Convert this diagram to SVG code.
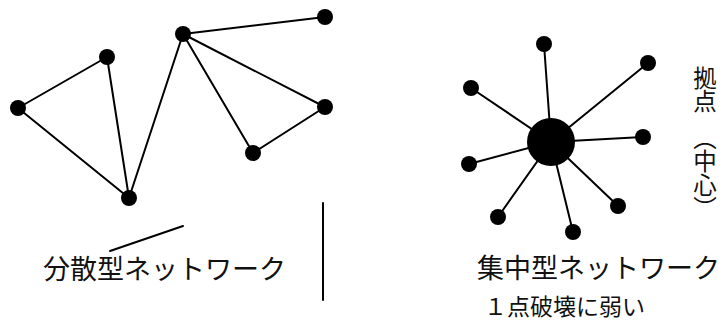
<svg xmlns="http://www.w3.org/2000/svg" width="727" height="329" viewBox="0 0 727 329">
<style>
.edge{stroke:#000;stroke-width:2;fill:none;stroke-linecap:round}
.n{fill:#000}
.t{font-family:"Noto Sans CJK JP","Noto Sans",sans-serif;fill:#111}
.v{writing-mode:vertical-rl}
</style>
<rect width="727" height="329" fill="#fff"/>
<g id="connectors">
<line class="edge" x1="18" y1="108" x2="107" y2="57"/>
<line class="edge" x1="18" y1="108" x2="129" y2="198"/>
<line class="edge" x1="107" y1="57" x2="129" y2="198"/>
<line class="edge" x1="129" y1="198" x2="183" y2="34"/>
<line class="edge" x1="183" y1="34" x2="325" y2="17"/>
<line class="edge" x1="183" y1="34" x2="325" y2="107"/>
<line class="edge" x1="183" y1="34" x2="253" y2="153"/>
<line class="edge" x1="253" y1="153" x2="325" y2="107"/>
<line class="edge" x1="551" y1="142" x2="544" y2="44"/>
<line class="edge" x1="551" y1="142" x2="648" y2="63"/>
<line class="edge" x1="551" y1="142" x2="471" y2="88"/>
<line class="edge" x1="551" y1="142" x2="643" y2="137"/>
<line class="edge" x1="551" y1="142" x2="469" y2="164"/>
<line class="edge" x1="551" y1="142" x2="498" y2="217"/>
<line class="edge" x1="551" y1="142" x2="573" y2="232"/>
<line class="edge" x1="551" y1="142" x2="618" y2="206"/>
<line class="edge" x1="110" y1="251" x2="183" y2="226"/>
<line class="edge" x1="323" y1="203" x2="323" y2="300"/>
</g>
<g id="dA"><circle class="n" cx="18" cy="108" r="8"/></g>
<g id="dB"><circle class="n" cx="107" cy="57" r="8"/></g>
<g id="dC"><circle class="n" cx="129" cy="198" r="8"/></g>
<g id="dD"><circle class="n" cx="183" cy="34" r="8"/></g>
<g id="dE"><circle class="n" cx="325" cy="17" r="8"/></g>
<g id="dF"><circle class="n" cx="325" cy="107" r="8"/></g>
<g id="dG"><circle class="n" cx="253" cy="153" r="8"/></g>
<g id="hub"><circle class="n" cx="551" cy="142" r="24"/></g>
<g id="s1"><circle class="n" cx="544" cy="44" r="8"/></g>
<g id="s2"><circle class="n" cx="648" cy="63" r="8"/></g>
<g id="s3"><circle class="n" cx="471" cy="88" r="8"/></g>
<g id="s4"><circle class="n" cx="643" cy="137" r="8"/></g>
<g id="s5"><circle class="n" cx="469" cy="164" r="8"/></g>
<g id="s6"><circle class="n" cx="498" cy="217" r="8"/></g>
<g id="s7"><circle class="n" cx="573" cy="232" r="8"/></g>
<g id="s8"><circle class="n" cx="618" cy="206" r="8"/></g>
<g id="labels">
<text class="t" x="43" y="279" font-size="27">分散型ネットワーク</text>
<text class="t" x="477" y="278" font-size="27">集中型ネットワーク</text>
<text class="t" x="484" y="315" font-size="23">１点破壊に弱い</text>
<text class="t v" x="705" y="66" font-size="23.5">拠点</text>
<text class="t v" x="705" y="126" font-size="23.5">（中心）</text>
</g>
</svg>
